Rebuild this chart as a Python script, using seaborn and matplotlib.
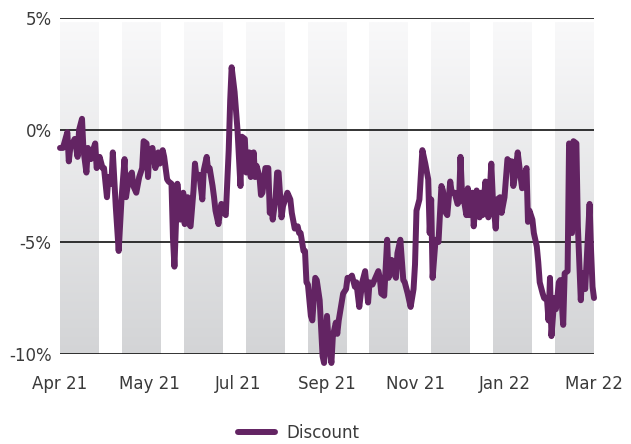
import numpy as np
import pandas as pd
import matplotlib
matplotlib.use("Agg")
import matplotlib.pyplot as plt
from matplotlib.colors import LinearSegmentedColormap
import seaborn as sns

# ---- data -------------------------------------------------------------
series_name = "Discount"
start_date = "2021-04-01"
days = [0, 2, 5, 6, 7, 10, 12, 13, 15, 16, 18, 19, 21, 22, 24, 25, 27, 29, 30, 32,
        33, 35, 36, 38, 40, 42, 44, 45, 47, 49, 50, 52, 54, 56, 57, 59, 60,
        61, 63, 65, 67, 68, 70, 71, 73, 74, 76, 77, 78, 80, 81, 82, 84, 85, 87, 88,
        89, 91, 92, 93, 95, 97, 98, 100, 101, 102, 104, 105, 106, 108, 109, 110, 112,
        113, 115, 116, 117, 119, 121,
        123, 124, 126, 127, 129, 130, 132, 133, 134, 136, 137, 138, 140, 142, 143, 144,
        145, 147, 148, 149, 151, 152, 154, 155, 157, 158, 160, 162, 163, 164, 166, 167,
        168, 169, 171, 172, 174, 175, 177, 179, 180, 182, 183, 185, 186, 188, 189, 190,
        192, 193, 195, 196, 198, 199, 201, 202, 204, 206, 208, 210, 211, 213, 215, 217,
        218, 219, 221, 223, 224, 226, 227, 229, 230, 232, 234, 235, 237, 239, 241, 242,
        243, 245, 247, 249, 251, 252, 253, 254, 256, 258, 260, 261, 263, 264, 266, 267,
        269, 271, 272, 273, 274, 275, 277, 278, 279, 281, 282, 284, 285, 286, 287, 288,
        290, 291, 292, 294, 295, 297, 298, 300, 301, 303, 305, 306, 308, 309, 310, 312,
        314, 315, 316, 318, 319, 320, 322, 323, 325, 326, 327, 329, 330, 332, 333, 334,
        335, 337, 338, 339, 340, 341, 343, 344, 346, 347, 348, 349, 350, 352, 353, 355,
        356, 358, 360, 361, 362, 363, 364]
discount = [-0.8, -0.8, -0.1, -1.4, -0.8, -0.4, -1.2, 0.0, 0.5, -0.9, -1.9, -0.8, -1.3, -1.0,
            -0.6, -1.7, -1.2, -1.7, -1.7, -3.0, -2.1, -2.4, -1.0, -3.4, -5.4, -3.0, -1.3,
            -3.0, -2.1, -1.9, -2.5, -2.8, -2.1, -1.7, -0.5, -0.6, -2.1,
            -0.9, -0.8, -1.7, -1.0, -1.5, -0.9, -1.2, -2.2, -2.3, -2.4, -4.8, -6.1, -2.4,
            -3.1, -4.0, -2.8, -4.2, -3.0, -4.2, -4.3, -2.7, -1.5, -2.1, -2.0, -3.1, -1.8,
            -1.2, -1.8, -1.7, -2.5, -3.0, -3.6, -4.2, -3.7, -3.3, -3.7, -3.8, -0.9, 1.3,
            2.8, 1.7, 0.0,
            -2.5, -0.3, -0.4, -1.9, -1.0, -2.1, -1.0, -2.1, -1.6, -2.1, -2.9, -2.8, -1.7,
            -1.7, -3.7, -3.3, -4.0, -3.0, -1.9, -1.9, -3.9, -3.4, -3.0, -2.8, -3.1, -3.7,
            -4.4, -4.3, -4.6, -4.6, -5.4, -5.4, -6.8, -6.9, -8.3, -8.5, -6.6, -6.7, -7.6,
            -10.1, -10.4, -8.3, -9.4, -10.4, -9.2, -8.6, -9.1, -8.5, -7.7, -7.3, -7.1,
            -6.6, -6.6, -6.5, -7.0, -6.8, -7.9, -6.8, -6.3, -7.7, -6.8, -6.9, -6.6, -6.3,
            -6.6, -7.3, -7.4, -4.9, -6.6, -5.8, -6.3, -6.6, -5.5, -4.9, -6.7, -6.8, -7.3,
            -7.9, -7.1, -6.0, -3.6, -3.1, -0.9, -1.5, -2.2, -4.6, -3.1, -6.6, -4.9, -5.0,
            -2.5, -2.7, -3.7, -3.8, -2.3, -2.8, -2.8, -3.3, -3.2, -1.2, -2.8, -3.0, -3.8,
            -2.6, -3.8, -2.8, -4.3, -2.7, -3.1, -3.9, -2.8, -3.8, -2.3, -3.1, -3.9, -1.5,
            -3.0, -4.4, -3.1, -3.0, -3.7, -3.0, -1.3, -1.4, -1.4, -2.5, -2.1, -1.0, -2.1,
            -2.6, -2.2, -1.7, -4.1, -3.6, -4.0, -4.6, -5.2, -5.9, -6.8, -7.3, -7.5, -7.6,
            -8.5, -6.6, -9.2, -7.5, -8.0, -7.5, -6.8, -6.7, -8.7, -6.4, -6.3, -0.6, -0.7,
            -4.6, -0.5, -0.6, -4.3, -7.6, -6.4, -7.1, -4.6, -3.3, -5.4, -7.0, -7.5]
x_tick_labels = ["Apr 21", "May 21", "Jul 21", "Sep 21", "Nov 21", "Jan 22", "Mar 22"]
y_ticks = [-10, -5, 0, 5]
y_tick_labels = ["-10%", "-5%", "0%", "5%"]

df = pd.DataFrame({"day": days, "value": discount})
df["series"] = series_name

# ---- styling ----------------------------------------------------------
sns.set_theme(style="white")
plt.rcParams["font.family"] = ["DejaVu Sans"]

LINE = "#632463"
TEXT = "#3a3a3a"
span = 364

fig = plt.figure(figsize=(6.31, 4.44), dpi=100)
ax = fig.add_axes([60 / 631, 1 - 354 / 444, 534 / 631, 336 / 444])

# gradient background bands
cmap = LinearSegmentedColormap.from_list("band", ["#f9f9fa", "#d3d4d6"])
grad = np.linspace(0, 1, 256).reshape(-1, 1)
n_bands = 9
period = span / (n_bands - 1 + 39 / 62)
width = period * 39 / 62
for i in range(n_bands):
    s = i * period
    ax.imshow(grad, cmap=cmap, aspect="auto", origin="upper",
              extent=(s, s + width, -10.05, 4.8), zorder=0, interpolation="bilinear")

sns.lineplot(data=df, x="day", y="value", hue="series", palette=[LINE],
             linewidth=4.3, ax=ax, zorder=3, clip_on=False, legend=True)
for ln in ax.lines:
    ln.set_solid_joinstyle("round")
    ln.set_solid_capstyle("round")
    ln.set_clip_on(False)

ax.set_xlim(0, span)
ax.set_ylim(-10, 5)
ax.set_xticks(np.linspace(0, span, len(x_tick_labels)))
ax.set_xticklabels(x_tick_labels)
ax.set_yticks(y_ticks)
ax.set_yticklabels(y_tick_labels)
ax.tick_params(axis="x", length=0, pad=15, labelsize=12, labelcolor=TEXT)
ax.tick_params(axis="y", length=0, pad=6, labelsize=12, labelcolor=TEXT)
ax.set_xlabel("")
ax.set_ylabel("")
for sp in ax.spines.values():
    sp.set_visible(False)
ax.set_axisbelow(True)
ax.yaxis.grid(True, color="#111111", linewidth=1.2)
ax.xaxis.grid(False)
ax.set_facecolor("white")

handles, labels = ax.get_legend_handles_labels()
leg = ax.legend(handles, [series_name], loc="center",
                bbox_to_anchor=(299 / 631, 1 - 433 / 444), bbox_transform=fig.transFigure,
                frameon=False, handlelength=2.2, handletextpad=0.7,
                prop={"size": 12})
for t in leg.get_texts():
    t.set_color(TEXT)
for h in leg.get_lines():
    h.set_linewidth(4.3)
    h.set_solid_capstyle("round")

fig.savefig("out.png", dpi=100)
